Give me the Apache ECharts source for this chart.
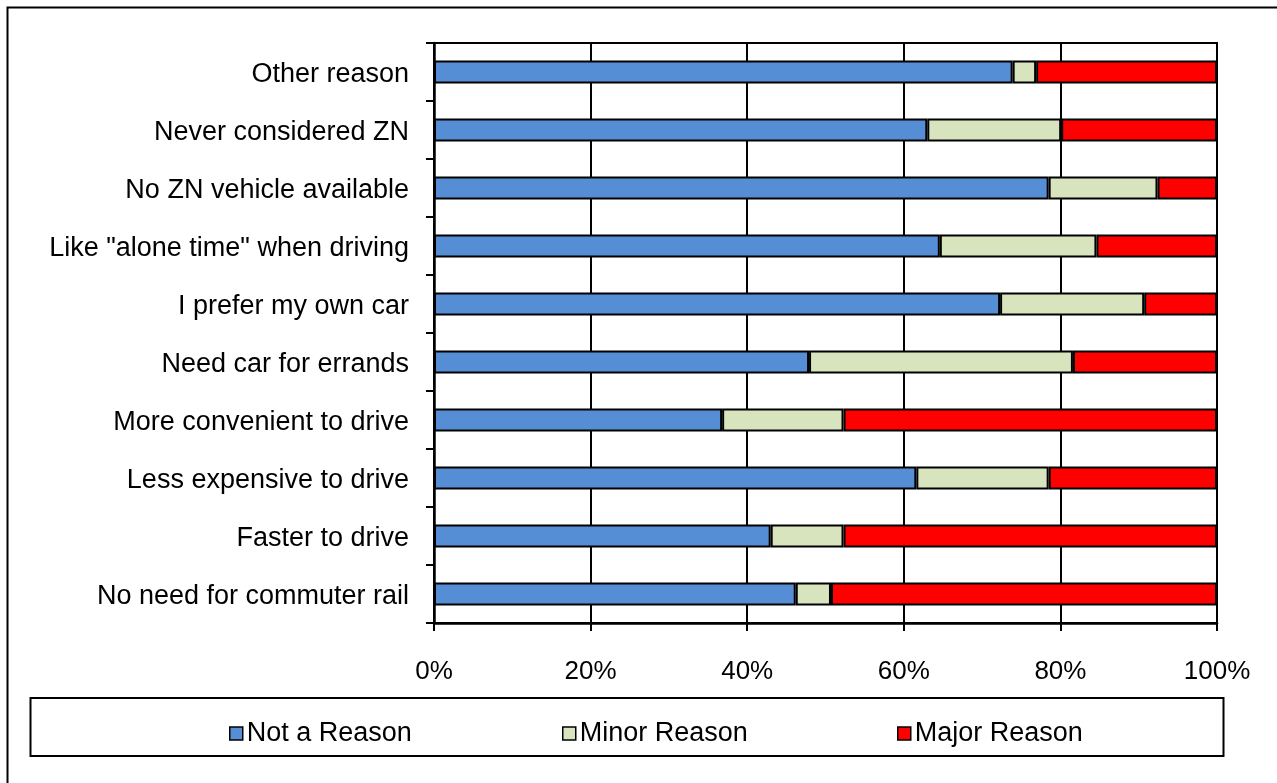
<!DOCTYPE html>
<html>
<head>
<meta charset="utf-8">
<script src="https://cdn.jsdelivr.net/npm/echarts@6/dist/echarts.min.js"></script>
<style>
html,body{margin:0;padding:0;background:#fff;}
#chart{width:1277px;height:783px;}
</style>
</head>
<body>
<div id="chart"></div>
<script>
const categories = [
  'Other reason',
  'Never considered ZN',
  'No ZN vehicle available',
  'Like "alone time" when driving',
  'I prefer my own car',
  'Need car for errands',
  'More convenient to drive',
  'Less expensive to drive',
  'Faster to drive',
  'No need for commuter rail'
];
const notAReason   = [73.9, 63.0, 78.5, 64.6, 72.3, 47.9, 36.8, 61.6, 43.0, 46.2];
const minorReason  = [3.0, 17.1, 13.9, 20.0, 18.4, 33.7, 15.5, 16.9, 9.3, 4.5];
const majorReason  = [23.1, 19.9, 7.6, 15.4, 9.3, 18.4, 47.7, 21.5, 47.7, 49.3];
const seriesNames  = ['Not a Reason', 'Minor Reason', 'Major Reason'];
const xTicks = [0, 20, 40, 60, 80, 100];

const FONT = '"Liberation Sans", Arial, sans-serif';
const colors = ['#558ED5', '#D7E4BD', '#FF0000'];

const chart = echarts.init(document.getElementById('chart'), null, {renderer: 'canvas'});

function mkSeries(name, data, color) {
  return {
    name: name,
    type: 'bar',
    stack: 'total',
    data: data,
    barWidth: 23,
    itemStyle: {color: color, borderColor: '#000', borderWidth: 2},
    emphasis: {disabled: true}
  };
}

function mkLegend(name, left) {
  return {
    data: [name],
    left: left,
    top: 715,
    itemWidth: 13,
    itemHeight: 13,
    itemGap: 0,
    icon: 'rect',
    selectedMode: false,
    textStyle: {fontFamily: FONT, fontSize: 27, color: '#000', padding: [0, 0, 0, -1]},
    itemStyle: {borderColor: '#000', borderWidth: 1.5}
  };
}

chart.setOption({
  animation: false,
  backgroundColor: '#fff',
  graphic: [
    {type: 'rect', shape: {x: 7.5, y: 7.5, width: 1275, height: 790},
     style: {fill: 'none', stroke: '#000', lineWidth: 2}, silent: true},
    {type: 'rect', shape: {x: 30.5, y: 698, width: 1193, height: 58},
     style: {fill: 'none', stroke: '#000', lineWidth: 2}, silent: true}
  ],
  legend: [
    mkLegend(seriesNames[0], 224),
    mkLegend(seriesNames[1], 557),
    mkLegend(seriesNames[2], 892)
  ],
  grid: {
    left: 434, right: 60, top: 43, bottom: 160,
    show: true, borderColor: '#000', borderWidth: 2, backgroundColor: 'transparent'
  },
  xAxis: {
    type: 'value',
    min: 0, max: 100, interval: 20,
    axisLine: {show: true, lineStyle: {color: '#000', width: 2.5}},
    axisTick: {show: true, length: 8, lineStyle: {color: '#000', width: 2}},
    splitLine: {show: true, lineStyle: {color: '#000', width: 2}},
    axisLabel: {
      formatter: function (v) { return xTicks.indexOf(v) >= 0 ? v + '%' : ''; },
      fontFamily: FONT, fontSize: 26, color: '#000', margin: 36
    }
  },
  yAxis: {
    type: 'category',
    data: categories,
    inverse: true,
    axisLine: {show: true, lineStyle: {color: '#000', width: 2.5}},
    axisTick: {show: true, length: 8, alignWithLabel: false, lineStyle: {color: '#000', width: 2}},
    axisLabel: {
      fontFamily: FONT, fontSize: 27, color: '#000', margin: 25,
      formatter: function (v) { return '{t|' + v + '}'; },
      rich: {t: {fontFamily: FONT, fontSize: 27, color: '#000', padding: [6, 0, 0, 0]}}
    }
  },
  series: [
    mkSeries(seriesNames[0], notAReason, colors[0]),
    mkSeries(seriesNames[1], minorReason, colors[1]),
    mkSeries(seriesNames[2], majorReason, colors[2])
  ]
});
</script>
</body>
</html>
